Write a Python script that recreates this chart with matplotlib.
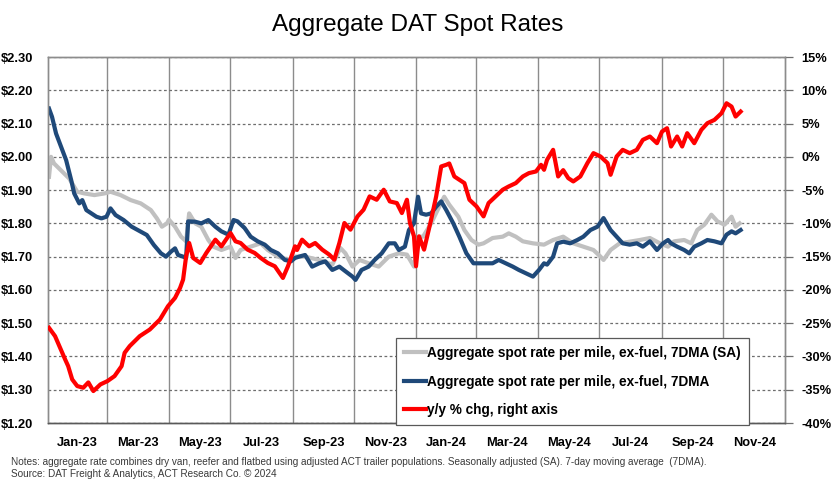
import numpy as np
import matplotlib
matplotlib.use("Agg")
import matplotlib.pyplot as plt
import matplotlib.dates as mdates
from matplotlib.ticker import FuncFormatter

plt.rcParams['font.family'] = ['Liberation Sans', 'DejaVu Sans']

# ---------------- data (days since 2023-01-01) ----------------
blue_days = [1, 4, 8, 13, 18, 23, 26, 31, 34, 38, 43, 48, 53, 58, 62, 67, 75, 83, 92, 98,
             105, 112, 117, 122, 126, 129, 134, 137, 139, 146, 152, 159, 166, 172, 179, 184,
             188, 195, 201, 208, 215, 221, 228, 235, 241, 245, 249, 255, 262, 269, 275, 282,
             289, 295, 302, 305, 311, 318, 324, 331, 338, 344, 348, 354, 358, 363, 367, 370,
             375, 380, 385, 390, 395, 402, 408, 415, 422, 432, 441, 447, 454, 461, 467, 474,
             481, 487, 492, 495, 501, 505, 511, 518, 525, 531, 538, 545, 551, 558, 564, 570,
             577, 584, 590, 597, 604, 610, 615, 618, 624, 631, 636, 641, 648, 654, 661, 668,
             673, 678, 682, 687]
blue_vals = [2.145, 2.12, 2.07, 2.03, 1.99, 1.93, 1.89, 1.86, 1.87, 1.84, 1.83, 1.82, 1.815,
             1.82, 1.845, 1.825, 1.81, 1.79, 1.775, 1.765, 1.735, 1.71, 1.70, 1.715, 1.725,
             1.705, 1.70, 1.696, 1.806, 1.805, 1.80, 1.81, 1.79, 1.776, 1.766, 1.81, 1.806,
             1.786, 1.76, 1.746, 1.736, 1.72, 1.71, 1.69, 1.686, 1.696, 1.70, 1.705, 1.67,
             1.68, 1.686, 1.66, 1.67, 1.656, 1.64, 1.63, 1.66, 1.67, 1.69, 1.71, 1.74, 1.74,
             1.72, 1.73, 1.78, 1.80, 1.88, 1.83, 1.826, 1.83, 1.85, 1.866, 1.84, 1.80, 1.76,
             1.71, 1.68, 1.68, 1.68, 1.69, 1.68, 1.67, 1.66, 1.65, 1.64, 1.66, 1.68, 1.676,
             1.70, 1.74, 1.745, 1.74, 1.75, 1.76, 1.78, 1.79, 1.816, 1.78, 1.76, 1.74, 1.736,
             1.74, 1.73, 1.746, 1.72, 1.74, 1.75, 1.74, 1.73, 1.72, 1.71, 1.73, 1.74, 1.75,
             1.746, 1.74, 1.766, 1.776, 1.77, 1.78]

gray_days = [1, 3, 6, 11, 16, 21, 26, 29, 36, 46, 56, 62, 72, 82, 92, 102, 108, 113, 118,
             120, 126, 132, 137, 140, 146, 152, 159, 164, 172, 181, 186, 191, 201, 211, 218,
             228, 238, 245, 255, 269, 282, 290, 295, 302, 309, 318, 328, 338, 348, 356, 363,
             368, 372, 380, 388, 393, 398, 407, 413, 420, 427, 432, 441, 451, 457, 464, 471,
             481, 492, 501, 511, 521, 531, 541, 548, 551, 558, 567, 577, 587, 597, 607, 615,
             621, 631, 638, 644, 651, 658, 664, 671, 678, 682, 686]
gray_vals = [1.94, 2.00, 1.98, 1.965, 1.95, 1.935, 1.91, 1.895, 1.89, 1.885, 1.89, 1.895,
             1.885, 1.87, 1.86, 1.84, 1.815, 1.79, 1.80, 1.811, 1.79, 1.76, 1.746, 1.83, 1.80,
             1.79, 1.75, 1.73, 1.72, 1.73, 1.696, 1.72, 1.73, 1.74, 1.72, 1.70, 1.69, 1.70,
             1.70, 1.69, 1.676, 1.726, 1.71, 1.67, 1.69, 1.68, 1.67, 1.70, 1.71, 1.706, 1.67,
             1.76, 1.76, 1.80, 1.85, 1.88, 1.856, 1.82, 1.78, 1.75, 1.736, 1.74, 1.756, 1.76,
             1.77, 1.76, 1.746, 1.74, 1.736, 1.75, 1.76, 1.74, 1.73, 1.72, 1.70, 1.69, 1.72,
             1.74, 1.745, 1.75, 1.756, 1.74, 1.73, 1.746, 1.75, 1.74, 1.78, 1.796, 1.826,
             1.806, 1.796, 1.82, 1.79, 1.80]

red_days = [1, 7, 12, 17, 20, 24, 29, 35, 40, 45, 52, 59, 66, 73, 76, 81, 91, 101, 111, 119,
            126, 131, 134, 137, 140, 144, 151, 157, 166, 172, 181, 186, 191, 198, 205, 211,
            218, 225, 233, 238, 245, 247, 252, 259, 265, 272, 279, 284, 289, 294, 300, 307,
            313, 319, 326, 333, 339, 346, 351, 356, 359, 363, 365, 368, 373, 380, 385, 390,
            395, 398, 403, 408, 413, 418, 425, 432, 437, 444, 451, 457, 464, 471, 477, 484,
            489, 492, 495, 501, 506, 511, 516, 521, 528, 535, 541, 548, 555, 558, 564, 570,
            577, 584, 590, 597, 604, 609, 614, 618, 624, 629, 634, 641, 648, 654, 661, 668,
            673, 678, 682, 687]
red_vals = [-25.7, -26.95, -28.7, -30.45, -31.45, -33.45, -34.45, -34.7, -33.9, -35.2, -34.2,
            -33.7, -32.95, -31.45, -29.45, -28.45, -26.95, -25.95, -24.45, -22.45, -21.2,
            -19.7, -18.45, -14.95, -12.95, -15.2, -15.95, -14.45, -12.45, -13.45, -11.45,
            -12.7, -12.95, -13.95, -14.45, -15.2, -15.95, -16.45, -18.2, -16.45, -13.45,
            -14.0, -12.45, -13.45, -12.95, -13.95, -14.7, -15.45, -12.95, -9.95, -10.95,
            -8.95, -7.95, -5.95, -6.45, -4.95, -6.7, -6.95, -8.45, -6.45, -9.95, -11.95,
            -16.45, -11.95, -13.95, -9.45, -5.95, -1.45, -1.2, -1.0, -2.95, -3.45, -3.95,
            -6.45, -7.45, -8.95, -6.95, -5.95, -4.95, -4.45, -3.95, -2.95, -2.45, -2.2, -1.2,
            -1.95, -0.45, 1.05, -2.95, -2.0, -3.2, -3.7, -2.95, -0.95, 0.55, 0.05, -0.95,
            -2.7, 0.05, 1.05, 0.55, 1.05, 2.55, 3.05, 2.05, 3.8, 4.3, 1.55, 3.05, 1.55, 3.55,
            2.05, 4.05, 5.05, 5.55, 6.55, 8.05, 7.55, 6.05, 6.8]

left_ticks = [1.20, 1.30, 1.40, 1.50, 1.60, 1.70, 1.80, 1.90, 2.00, 2.10, 2.20, 2.30]
right_ticks = [-40, -35, -30, -25, -20, -15, -10, -5, 0, 5, 10, 15]
month_labels = ['Jan-23', 'Mar-23', 'May-23', 'Jul-23', 'Sep-23', 'Nov-23',
                'Jan-24', 'Mar-24', 'May-24', 'Jul-24', 'Sep-24', 'Nov-24']

series_labels = ['Aggregate spot rate per mile, ex-fuel, 7DMA (SA)',
                 'Aggregate spot rate per mile, ex-fuel, 7DMA',
                 'y/y % chg, right axis']

# ---------------- helpers ----------------
base = np.datetime64('2023-01-01')
def to_dates(days):
    return base + np.array(days, dtype='timedelta64[D]')

W, H = 836, 484
fig = plt.figure(figsize=(W / 100, H / 100), dpi=100)
ax = fig.add_axes([48 / W, 1 - 423 / H, 737 / W, 366 / H])
ax2 = ax.twinx()

BLUE = '#1F4979'
GRAY = '#C0C0C0'
RED = '#FF0000'
LW = 3.0

l_gray, = ax.plot(to_dates(gray_days), gray_vals, color=GRAY, lw=LW, solid_joinstyle='round', zorder=3)
l_blue, = ax.plot(to_dates(blue_days), blue_vals, color=BLUE, lw=LW, solid_joinstyle='round', zorder=4)
l_red, = ax2.plot(to_dates(red_days), red_vals, color=RED, lw=LW, solid_joinstyle='round', zorder=5)

start = np.datetime64('2023-01-01')
end = np.datetime64('2025-01-01')
ax.set_xlim(mdates.date2num(start), mdates.date2num(end))
ax.set_ylim(1.20, 2.30)
ax2.set_ylim(-40, 15)

# vertical gridlines every 2 months
bounds = np.arange(np.datetime64('2023-01'), np.datetime64('2025-02'), 2).astype('datetime64[D]')
bnum = mdates.date2num(bounds)
for b in bnum[1:-1]:
    ax.axvline(b, color='#8C8C8C', lw=1.0, zorder=1)
mids = (bnum[:-1] + bnum[1:]) / 2
ax.set_xticks(mids)
ax.set_xticklabels(month_labels, fontsize=9.3, fontweight='bold')
ax.tick_params(axis='x', length=0, pad=10)

# horizontal gridlines
ax.set_yticks(left_ticks)
ax.yaxis.set_major_formatter(FuncFormatter(lambda v, p: f'${v:.2f}'))
ax.grid(axis='y', color='#6E6E6E', lw=0.9, linestyle=(0, (2.2, 2.0)), zorder=0)
ax.tick_params(axis='y', length=0, pad=11, labelsize=9.3)
for lab in ax.get_yticklabels():
    lab.set_fontweight('bold')

ax2.set_yticks(right_ticks)
ax2.yaxis.set_major_formatter(FuncFormatter(lambda v, p: f'{v:.0f}%'))
ax2.tick_params(axis='y', length=6, width=0.9, color='#6E6E6E', pad=6, labelsize=9.3)
for lab in ax2.get_yticklabels():
    lab.set_fontweight('bold')

for a in (ax, ax2):
    for s in ('top', 'right', 'left'):
        a.spines[s].set_color('#8C8C8C')
        a.spines[s].set_linewidth(1.0)
    a.spines['bottom'].set_color('#595959')
    a.spines['bottom'].set_linewidth(1.0)

# legend
leg = ax2.legend([l_gray, l_blue, l_red], series_labels,
                 loc='lower left',
                 bbox_to_anchor=((396 - 48) / 737, (423 - 425) / 366),
                 bbox_transform=ax.transAxes,
                 prop={'family': 'Liberation Sans', 'weight': 'bold', 'size': 9.8},
                 frameon=True, fancybox=False, framealpha=1, edgecolor='#595959',
                 borderpad=0.6, handlelength=1.6, handletextpad=0.1,
                 labelspacing=1.05, borderaxespad=0)
leg.get_frame().set_linewidth(0.9)
leg.set_zorder(10)

fig.text(418 / W, 1 - 25 / H, 'Aggregate DAT Spot Rates', ha='center', va='center',
         fontsize=17.5, color='#000000')

note_font = ['Liberation Sans Narrow', 'Liberation Sans', 'DejaVu Sans']
fig.text(11 / W, 1 - 462 / H,
         'Notes: aggregate rate combines dry van, reefer and flatbed using adjusted ACT trailer populations. '
         'Seasonally adjusted (SA). 7-day moving average  (7DMA).',
         ha='left', va='center', fontsize=7.2, color='#3A3A3A', family=note_font)
fig.text(11 / W, 1 - 474 / H, 'Source: DAT Freight & Analytics, ACT Research Co. \u00a9 2024',
         ha='left', va='center', fontsize=7.2, color='#3A3A3A', family=note_font)

fig.savefig('out.png', dpi=100)
